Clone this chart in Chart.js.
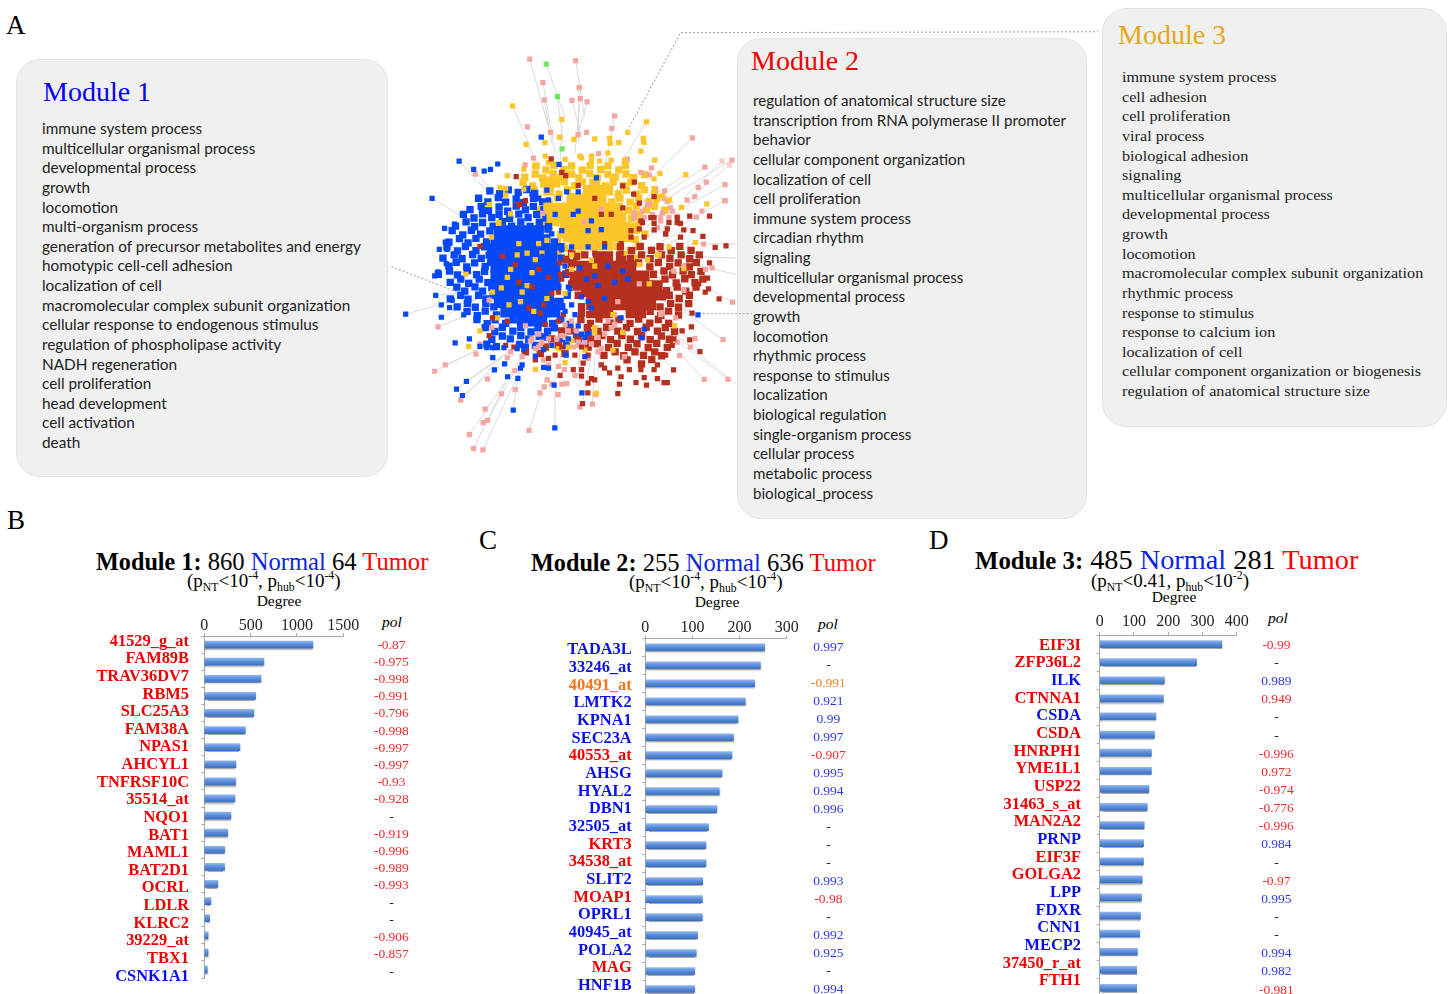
<!DOCTYPE html>
<html><head><meta charset="utf-8">
<script src="https://cdn.jsdelivr.net/npm/chart.js@4"></script>
<style>
html,body{margin:0;padding:0;background:#fff;width:1455px;height:994px;overflow:hidden}
.a{position:absolute;white-space:nowrap;line-height:1;transform:translateY(-50%)}
.t{font-family:"Liberation Serif",serif;color:#000}
canvas{position:absolute}
.box{position:absolute;background:#f0f0f0;border:1px solid #e4e4e4;border-radius:24px;box-sizing:border-box}
.head{position:absolute;font:28px/1 "Liberation Serif",serif;white-space:nowrap}
.terms{position:absolute;white-space:nowrap;transform-origin:0 0;color:#222}
.terms div{height:19.64px;line-height:19.64px}
sub,sup{font-size:62%;line-height:0}
</style></head><body>
<div id="boxes"></div>
<div class="a t" style="left:6px;top:25px;font-size:27px">A</div>
<div class="a t" style="left:7px;top:520px;font-size:27px">B</div>
<div class="a t" style="left:479px;top:540px;font-size:27px">C</div>
<div class="a t" style="left:929px;top:540px;font-size:27px">D</div>

<div class="a t" style="left:96px;top:562px;font-size:24.6px"><b style="font-size:24.2px">Module 1:</b> 860 <span style="color:#0a24e8">Normal</span> 64 <span style="color:#f00">Tumor</span></div>
<div class="a t" style="left:531px;top:563px;font-size:24.6px"><b style="font-size:24.2px">Module 2:</b> 255 <span style="color:#0a24e8">Normal</span> 636 <span style="color:#f00">Tumor</span></div>
<div class="a t" style="left:975px;top:560px;font-size:28.3px"><b style="font-size:24.8px">Module 3:</b> 485 <span style="color:#0a24e8">Normal</span> 281 <span style="color:#f00">Tumor</span></div>
<div class="a t" style="left:187px;top:580px;font-size:19px">(p<sub>NT</sub>&lt;10<sup>-4</sup>, p<sub>hub</sub>&lt;10<sup>-4</sup>)</div>
<div class="a t" style="left:629px;top:581px;font-size:19px">(p<sub>NT</sub>&lt;10<sup>-4</sup>, p<sub>hub</sub>&lt;10<sup>-4</sup>)</div>
<div class="a t" style="left:1091px;top:580px;font-size:19px">(p<sub>NT</sub>&lt;0.41, p<sub>hub</sub>&lt;10<sup>-2</sup>)</div>
<div class="a t" style="left:279px;top:601px;font-size:15.5px;transform:translate(-50%,-50%)">Degree</div>
<div class="a t" style="left:717px;top:602px;font-size:15.5px;transform:translate(-50%,-50%)">Degree</div>
<div class="a t" style="left:1174px;top:597px;font-size:15.5px;transform:translate(-50%,-50%)">Degree</div>
<div class="a t" style="left:392px;top:622px;font-size:15.5px;font-style:italic;transform:translate(-50%,-50%)">pol</div>
<div class="a t" style="left:828px;top:624px;font-size:15.5px;font-style:italic;transform:translate(-50%,-50%)">pol</div>
<div class="a t" style="left:1278px;top:618px;font-size:15.5px;font-style:italic;transform:translate(-50%,-50%)">pol</div>

<canvas id="net" style="left:0;top:0;z-index:3"></canvas>
<canvas id="c1" style="left:90px;top:600px"></canvas>
<canvas id="c2" style="left:520px;top:600px"></canvas>
<canvas id="c3" style="left:960px;top:600px"></canvas>
<script>
// ---------- Panel A: GO terms ----------
const module1Terms=["immune system process","multicellular organismal process","developmental process","growth","locomotion","multi-organism process","generation of precursor metabolites and energy","homotypic cell-cell adhesion","localization of cell","macromolecular complex subunit organization","cellular response to endogenous stimulus","regulation of phospholipase activity","NADH regeneration","cell proliferation","head development","cell activation","death"];
const module2Terms=["regulation of anatomical structure size","transcription from RNA polymerase II promoter","behavior","cellular component organization","localization of cell","cell proliferation","immune system process","circadian rhythm","signaling","multicellular organismal process","developmental process","growth","locomotion","rhythmic process","response to stimulus","localization","biological regulation","single-organism process","cellular process","metabolic process","biological_process"];
const module3Terms=["immune system process","cell adhesion","cell proliferation","viral process","biological adhesion","signaling","multicellular organismal process","developmental process","growth","locomotion","macromolecular complex subunit organization","rhythmic process","response to stimulus","response to calcium ion","localization of cell","cellular component organization or biogenesis","regulation of anatomical structure size"];

// ---------- Panel A: network nodes (x,y pairs) ----------
const nodesGreen=[463,55,497,156,511,317];
const nodesPink=[413,40,552,44,453,112,563,128,457,166,541,167,566,162,587,172,670,215,406,249,662,254,476,266,559,274,585,266,906,283,424,346,399,367,622,332,709,349,1026,352,944,374,782,376,248,395,948,420,1005,428,924,436,822,447,913,465,890,476,1004,477,935,510,918,528,810,540,845,510,940,612,966,685,946,690,1028,791,999,907,914,903,867,957,942,1030,1014,1030,135,868,262,920,250,952,157,985,125,1005,345,963,368,1003,285,1029,327,1075,369,1062,204,1094,278,1122,272,1164,285,1157,230,1201,243,1244,271,1248,411,1188,444,1072,457,1053,466,1032,499,1077,510,1045,525,1043,518,1000,550,1018,565,1116,603,1107,612,1077,430,935,415,912,400,865,440,890,520,860,540,850,530,880,480,1045,630,935,660,870,670,830,680,790,745,735,815,825,860,915,880,755,850,695,810,530,770,490,730,530,750,390,775,398,630,505,578,543,452,517,290,785,298,870,355,945,390,960,1005,477,840,500,760,530,800,560,830,480,775,487,620,945,590,965,520,900,560,925,440,930,670,860,640,890,700,960,810,830,880,680,855,840,900,930,
420,905,450,915,510,895,555,880,470,985,500,990,455,970,545,930,600,920,650,850,730,515,755,510,785,520,815,515,835,530,860,525,795,440,820,470,560,915,620,900,580,915,470,905,445,925,495,905];
const nodesPinkFaint=[996,355,1018,367];
const nodesYellow=[361,184,510,226,767,234,710,266,402,303,459,298,503,281,547,288,610,286,655,285,657,300,757,285,759,297,683,298,750,324,792,352,886,397,808,394,950,487,873,498,837,475,915,607,852,865,262,880,228,928,430,999,520,978,615,1073,345,400,323,437,
460,340,565,340,600,340,650,330,470,360,520,350,570,345,600,356,625,355,660,352,700,352,395,380,428,372,790,410,340,440,395,442,790,440,815,462,795,490,800,645,770,660,
318,548,297,590,375,645,405,640,345,715,327,747,220,705,405,740,425,820,315,840,385,790,520,765,540,910,500,935,580,940,610,870,665,830,695,885,775,735,805,645,835,620,880,688,290,490,355,518,320,545,610,885,665,940,530,930,450,640,465,600,440,610,340,460,
380,610,430,660,355,690,420,700,390,760,465,780,350,800,300,760,540,690,610,680,540,645,600,662,700,640,745,675];
const nodesRed=[1008,617,975,622,938,588,958,525,898,525,987,781,929,944,903,868,898,908,849,1001,680,1074,573,1105,589,1072,767,1048,735,1040,820,1040,830,1040,478,348,522,400,510,390,372,403,400,477,381,490,262,619,369,675,430,970,
780,530,790,530,860,530,755,545,790,548,835,545,870,548,745,565,790,568,830,565,880,568,908,570,720,590,760,590,825,580,870,590,690,640,958,670,952,717,925,735,955,750,945,760,905,825,875,880,850,905,845,925,825,955,800,985,545,1000,570,1000,640,995,680,995,715,1000,750,1000,790,1000,505,1018,570,1020,600,1028,655,1010,690,1022,760,1025,800,1028,590,1042,610,1032,685,1045,510,930,570,930,490,955,550,955,590,955,575,980,630,985,
470,715,480,765,510,720,515,830,500,850,460,860,345,850,300,840,290,895,340,925,365,930,470,965,445,825,505,670,505,705,560,430,695,432,730,420,728,457,695,500,630,520,720,570,750,540,745,485,790,465,825,580,860,545,
420,745,380,730,440,690,330,650,410,810,455,800,500,760,610,470,660,520,690,610,640,610,610,640];
const nodesBlue=[199,355,243,381,275,386,294,381,316,364,117,470,448,281,502,365,615,407,37,828,128,770,145,800,145,838,187,917,230,905,262,928,301,963,306,1001,337,982,346,1022,377,1027,221,1036,191,1060,209,1080,363,1125,487,1048,489,1180,571,1072,923,831,753,902,430,958,455,993,470,995,390,985,385,995,523,955,
157,606,139,628,162,628,160,672,135,698,125,710,178,785,170,808,155,563,185,550,213,831,283,932,300,932,335,932,375,935,395,938,455,938,480,925,580,900,
480,580,510,570,490,520,545,520,590,570,630,567,590,620,560,450,525,450,470,475,640,620,565,685,610,710,695,695,710,720,620,740,600,810,560,865,580,960,570,890,690,840,760,875,510,630,540,620,450,650,585,720,535,750,520,680,
530,745,570,775,540,800,520,820,465,445,420,458,440,470,500,470,560,510,600,540,650,680,670,730,640,780,590,790,550,830,530,905];
// mid-density rings of each module
const midBlue=[292,447,322,456,348,444,378,452,404,443,428,455,258,470,286,481,318,468,340,482,372,472,394,484,425,470,452,481,232,505,266,495,288,508,320,497,346,510,372,494,400,506,424,495,456,505,212,520,244,531,270,518,298,530,320,520,352,532,380,519,408,530,434,520,462,531,188,556,220,543,246,558,270,545,302,556,330,542,358,556,386,543,414,557,442,544,470,556,178,570,210,583,236,569,264,581,292,571,168,606,200,595,226,608,250,594,282,605,162,620,194,633,218,619,250,632,276,620,150,655,184,645,208,657,240,644,266,656,290,646,168,680,190,668,222,682,246,670,278,681,296,669,136,705,170,695,194,707,224,694,252,706,276,696,172,730,204,720,228,733,260,720,286,731,192,745,216,757,247,744,270,757,298,746,172,781,204,770,226,782,258,770,280,781,302,771,193,806,224,795,248,807,280,796,304,806,223,820,254,833,278,819,312,831,253,845,284,858,308,846,340,857,363,846,482,857,507,845,278,870,307,882,330,869,362,881,386,870,417,883,438,871,467,881,488,871,298,906,330,896,354,905,386,895,410,906,442,897,283,921,312,929,382,922,510,805,527,770,498,745,522,705,508,655,507,620,488,605,468,565,400,930,430,925,460,900,510,905,525,925,555,895,590,885,535,860];
const midYellow=[432,370,462,382,486,368,517,381,540,370,572,383,596,369,628,381,650,370,683,382,703,369,398,405,430,395,452,407,484,394,508,406,540,395,562,407,595,394,618,406,650,396,672,405,705,395,728,406,762,397,393,420,422,432,518,419,550,431,573,420,642,432,666,419,697,431,720,420,752,431,426,445,502,457,528,444,682,456,706,445,737,457,760,444,792,456,438,470,472,482,498,469,662,481,686,470,717,482,743,469,774,481,798,470,443,505,712,507,736,494,767,506,790,495,822,507,453,520,722,532,746,519,458,555,492,545,727,556,748,544,473,570,507,582,737,569,762,581,498,605,733,597,512,620,542,632,678,619,717,631,743,620,518,655,562,645,732,656,520,625,545,610,500,640];
const midRed=[688,620,722,632,748,619,782,631,808,620,842,632,868,619,902,631,718,656,752,645,778,657,812,645,838,656,872,645,898,657,927,645,743,670,777,682,803,669,837,681,863,670,897,682,918,669,788,705,820,695,846,707,878,695,903,706,932,696,823,720,857,732,883,719,914,731,938,720,828,756,860,745,886,757,917,745,866,780,897,770,836,770,808,806,840,795,864,807,895,796,778,820,810,832,834,819,864,831,568,845,597,857,623,844,657,856,683,845,717,857,743,844,777,856,803,845,834,857,588,870,620,882,646,869,680,881,706,870,740,882,766,869,800,881,824,870,852,882,598,906,632,895,658,907,692,895,718,906,752,895,778,907,812,896,836,906,618,920,652,932,678,919,712,931,738,920,772,932,798,919,830,931,638,956,672,945,698,957,732,945,758,956,792,945,813,957,708,970,752,982,783,969,545,670,530,700,540,735,560,770,580,765,570,805,570,825,595,830,540,675,510,880,480,905,500,925,540,640,525,660,555,650,580,645,560,905,590,930,460,930,520,950,445,950,400,945,535,880];
const coreYellow=[460,420,490,420,610,425,470,445,590,445,620,445,650,445,540,470,570,470,600,470,630,470,470,500,500,500,530,500,560,500,590,500,620,500,650,500,680,500,480,530,510,530,540,530,570,530,600,530,630,530,660,530,690,530,520,560,550,560,580,560,610,560,640,560,670,560,700,560,530,590,560,590,590,590,620,590,650,590,680,590,710,590,560,615,590,615,620,615,650,615];
const coreBlue=[320,570,350,570,380,570,410,570,440,570,310,598,340,598,370,598,400,598,430,598,460,598,300,626,330,626,360,626,390,626,420,626,450,626,480,626,300,654,330,654,360,654,390,654,420,654,450,654,480,654,310,682,340,682,370,682,400,682,430,682,460,682,490,682,310,710,340,710,370,710,400,710,430,710,460,710,490,710,310,738,340,738,370,738,400,738,430,738,460,738,490,738,320,766,350,766,380,766,410,766,440,766,470,766,320,794,350,794,380,794,410,794,440,794,470,794,500,794,340,822,370,822,400,822,430,822,460,822,490,822,390,850,420,850,450,850];
const coreRed=[620,650,650,650,690,650,570,680,600,680,630,680,660,680,690,680,720,680,550,710,580,710,610,710,640,710,670,710,700,710,730,710,760,710,560,740,590,740,620,740,650,740,680,740,710,740,740,740,770,740,800,740,600,770,630,770,660,770,690,770,720,770,750,770,780,770,810,770,600,800,630,800,660,800,690,800,720,800,750,800,780,800,620,825,650,825,720,825,750,825];
// node-to-node links (x1,y1,x2,y2)
const links=[413,40,470,250,453,112,490,330,457,166,480,300,463,55,520,220,497,156,515,300,552,44,580,220,563,128,560,300,541,167,570,280,566,162,550,330,587,172,560,270,361,184,425,340,510,226,505,400,670,215,640,380,767,234,690,360,906,283,760,430,1026,352,830,470,944,374,800,470,996,355,880,470,1018,367,900,470,1005,428,840,520,1004,477,860,560,1040,612,900,610,1040,655,880,650,1040,705,880,670,1028,791,900,720,999,907,880,820,1040,1045,840,880,1014,1030,820,880,942,1030,820,900,929,944,830,840,849,1001,760,900,680,1074,680,960,573,1105,600,950,603,1107,610,960,489,1180,490,1000,411,1188,470,1000,271,1248,390,990,243,1244,340,1040,230,1201,390,960,285,1157,370,1000,363,1125,380,1000,204,1094,340,950,209,1080,370,950,191,1060,330,960,221,1036,370,930,125,1005,290,920,157,985,300,920,135,868,250,820,37,828,190,785,117,470,260,560,199,355,320,490,243,381,330,480,128,770,230,760,145,838,220,800,886,397,760,480,923,831,800,780,850,540,720,620,900,560,740,640,930,600,760,680,950,720,760,720,900,800,760,740,860,860,720,800,760,950,700,820,640,1000,620,860,560,1020,570,880,500,1000,520,880,440,950,470,880,350,960,420,860,300,900,380,820,200,800,320,760,180,700,320,700,170,620,320,660,200,540,340,620,300,460,400,580,440,400,520,520,600,380,580,500,700,400,640,520,790,440,700,560,
880,590,760,640,900,600,780,660,860,620,760,660,940,650,800,700,910,690,780,720,850,480,720,600,780,460,680,560,720,400,640,520,620,380,590,520,480,390,530,520,420,440,500,560,320,470,420,600,250,540,380,640,210,600,360,660,190,720,340,720,210,790,340,760,250,840,380,780,320,890,420,800,420,930,470,830,560,990,580,840,620,1010,630,850,710,1000,700,840,790,990,750,820,860,900,780,780,830,820,740,760];
const callouts=[-6,681,192,760,null,null,715,250,870,-42,2136,-45,null,null,925,827,1086,827];

// ---------- Panels B, C, D: hub genes ----------
const m1Genes=["41529_g_at","FAM89B","TRAV36DV7","RBM5","SLC25A3","FAM38A","NPAS1","AHCYL1","TNFRSF10C","35514_at","NQO1","BAT1","MAML1","BAT2D1","OCRL","LDLR","KLRC2","39229_at","TBX1","CSNK1A1"];
const m1Degree=[1173,644,612,554,536,442,385,342,338,331,288,252,219,219,147,72,58,40,40,32];
const m1Group="TTTTTTTTTTTTTTTTTTTN";
const m1Pol=["-0.87","-0.975","-0.998","-0.991","-0.796","-0.998","-0.997","-0.997","-0.93","-0.928","-","-0.919","-0.996","-0.989","-0.993","-","-","-0.906","-0.857","-"];
const m1PolGroup="TTTTTTTTTT-TTTT--TT-";
const m1Ticks=[0,500,1000,1500];

const m2Genes=["TADA3L","33246_at","40491_at","LMTK2","KPNA1","SEC23A","40553_at","AHSG","HYAL2","DBN1","32505_at","KRT3","34538_at","SLIT2","MOAP1","OPRL1","40945_at","POLA2","MAG","HNF1B"];
const m2Degree=[253,244,232,212,197,187,184,163,157,152,134,129,129,122,121,121,111,108,105,105];
const m2Group="NNONNNTNNNNTTNTNNNTN";
const m2Pol=["0.997","-","-0.991","0.921","0.99","0.997","-0.907","0.995","0.994","0.996","-","-","-","0.993","-0.98","-","0.992","0.925","-","0.994"];
const m2PolGroup="N-ONNNTNNN---NT-NN-N";
const m2Ticks=[0,100,200,300];

const m3Genes=["EIF3I","ZFP36L2","ILK","CTNNA1","CSDA","CSDA","HNRPH1","YME1L1","USP22","31463_s_at","MAN2A2","PRNP","EIF3F","GOLGA2","LPP","FDXR","CNN1","MECP2","37450_r_at","FTH1"];
const m3Degree=[357,283,189,186,164,160,151,151,144,139,130,128,128,124,122,119,117,110,108,108];
const m3Group="TTNTNTTTTTTNTTNNNNTT";
const m3Pol=["-0.99","-","0.989","0.949","-","-","-0.996","0.972","-0.974","-0.776","-0.996","0.984","-","-0.97","0.995","-","-","0.994","0.982","-0.981"];
const m3PolGroup="T-NT--TTTTTN-TN--NNT";
const m3Ticks=[0,100,200,300,400];

// ---------- boxes ----------
function addBox(l,t,w,h,title,color,hx,hy,terms,tx,ty,font,size,fit){
  const b=document.createElement('div');b.className='box';
  b.style.cssText=`left:${l}px;top:${t}px;width:${w}px;height:${h}px`;
  document.getElementById('boxes').appendChild(b);
  const head=document.createElement('div');head.className='head';head.textContent=title;
  head.style.cssText=`left:${hx-l-1}px;top:${hy-t-1}px;color:${color}`;b.appendChild(head);
  const tb=document.createElement('div');tb.className='terms';
  tb.style.cssText=`left:${tx-l-1}px;top:${ty-t-1}px;font-family:${font};font-size:${size}px`;
  terms.forEach(s=>{const d=document.createElement('div');d.textContent=s;tb.appendChild(d)});
  b.appendChild(tb);
  const idx=terms.reduce((m,s,i)=>s.length>terms[m].length?i:m,0);
  const sp=document.createElement('span');sp.textContent=terms[idx];tb.children[idx].textContent='';tb.children[idx].appendChild(sp);
  tb.style.transform=`scaleX(${fit/sp.getBoundingClientRect().width})`;
}
addBox(16,59,372,418,"Module 1","#0000f5",43,78,module1Terms,42,119,'Lato,"Open Sans",sans-serif',15,319);
addBox(737,38,350,481,"Module 2","#f00000",751,47,module2Terms,753,91,'Lato,"Open Sans",sans-serif',15,313);
addBox(1102,8,345,419,"Module 3","#e6a817",1118,21,module3Terms,1122,67,'"Liberation Serif",serif',15.5,299);

// ---------- network ----------
const pts=a=>{const o=[];for(let i=0;i<a.length;i+=2)o.push({x:a[i],y:a[i+1]});return o};
const segs=a=>{const o=[];for(let i=0;i<a.length;i+=4)o.push({x:a[i],y:a[i+1]},{x:a[i+2],y:a[i+3]},{x:NaN,y:NaN});return o};
const node=(label,a,color,r,order)=>({label,data:pts(a),backgroundColor:color,borderWidth:0,pointStyle:'rect',pointRadius:r,order,showLine:false});
const cN=document.getElementById('net');cN.width=1455;cN.height=500;cN.style.width='1455px';cN.style.height='500px';
new Chart(cN,{type:'scatter',data:{datasets:[
  {label:'callouts',data:pts(callouts).map(p=>p.x===null?{x:NaN,y:NaN}:p),showLine:true,borderColor:'#9a9a9a',borderWidth:1,borderDash:[2,2],pointRadius:0,order:20},
  {label:'links',data:segs(links),showLine:true,borderColor:'#dadada',borderWidth:1,pointRadius:0,order:19},
  node('Module 3 dense',midYellow,'#fcc62a',5.2,18),
  node('Module 1 dense',midBlue,'#0648f8',5.2,17),
  node('Module 2 dense',midRed,'#b5301f',5.2,16),
  node('Module 3 core',coreYellow,'#fcc62a',7.5,15),
  node('Module 1 core',coreBlue,'#0648f8',7.5,14),
  node('Module 2 core',coreRed,'#b5301f',7.5,13),
  node('unassigned',nodesPink,'#f4a6a3',3.7,9),
  node('unassigned faint',nodesPinkFaint,'#f9cfcd',3.7,9),
  node('other',nodesGreen,'#6fe85a',3.7,8),
  node('Module 3',nodesYellow,'#fcc62a',3.7,7),
  node('Module 2',nodesRed,'#b5301f',3.7,6),
  node('Module 1',nodesBlue,'#0648f8',3.7,5)
]},options:{responsive:false,animation:false,events:[],layout:{padding:0},
  plugins:{legend:{display:false},tooltip:{enabled:false}},
  scales:{x:{type:'linear',display:false,min:-1170,max:3195},y:{type:'linear',display:false,reverse:true,min:-120,max:1380}}}});

// ---------- bar charts ----------
const geneColor={T:'#f00000',N:'#0a10e8',O:'#f5741a'};
const polColor={T:'#f22a2a',N:'#2a3ae6',O:'#f5842a','-':'#222'};
const serif='"Liberation Serif",serif';
const barShadow={id:'barShadow',
  beforeDatasetsDraw(c){c.ctx.save();c.ctx.shadowColor='rgba(60,60,60,.45)';c.ctx.shadowOffsetY=1.5;c.ctx.shadowBlur=1.5},
  afterDatasetsDraw(c){c.ctx.restore()}};
function barFill(ctx){
  const c=ctx.chart,s=c.scales.y;if(!s||ctx.dataIndex===undefined||!c.chartArea)return '#5b8fd8';
  const y=s.getPixelForValue(ctx.dataIndex),g=c.ctx.createLinearGradient(0,y-3.5,0,y+3.5);
  g.addColorStop(0,'#8fb4ea');g.addColorStop(.45,'#5c90dc');g.addColorStop(1,'#3d70bf');return g;
}
function noPad(a){a.paddingTop=a.paddingBottom=a.paddingLeft=a.paddingRight=0}
function rowAxis(position,texts,colors,font,first,last,top,bottom,width,padding,crossAlign){
  const s=(last-first)/(texts.length-1),mn=(top-first)/s,mx=(bottom-first)/s;
  return {type:'linear',position,reverse:true,offset:false,bounds:'data',min:mn,max:mx,
    border:{display:false},grid:{display:false,drawTicks:false,offset:false},
    afterBuildTicks(a){a.ticks=texts.map((_,i)=>({value:i}));a.min=mn;a.max=mx},
    afterFit(a){a.width=width;noPad(a)},
    ticks:{autoSkip:false,padding,crossAlign,maxRotation:0,font,callback:v=>texts[v],color:c=>colors[c.index]}};
}
function bars(id,cfg){
  const cv=document.getElementById(id);
  const W=cfg.canvasRight-cfg.canvasLeft,H=cfg.canvasBottom-600;
  cv.width=W;cv.height=H;cv.style.width=W+'px';cv.style.height=H+'px';
  new Chart(cv,{type:'bar',plugins:[barShadow],
    data:{labels:cfg.genes,datasets:[{label:'Degree',data:cfg.degree,backgroundColor:barFill,barThickness:7,borderWidth:0}]},
    options:{indexAxis:'y',responsive:false,animation:false,events:[],
      layout:{padding:{left:0,top:0,right:0,bottom:cfg.canvasBottom-cfg.bottom}},
      plugins:{legend:{display:false},tooltip:{enabled:false}},
      scales:{
        x:{type:'linear',position:'top',min:0,max:cfg.max,
          afterBuildTicks(a){a.ticks=cfg.ticks.map(v=>({value:v}))},
          afterFit(a){a.height=cfg.top-600;noPad(a)},
          border:{color:'#a8a8a8'},grid:{drawOnChartArea:false,color:'#a8a8a8',tickLength:3},
          ticks:{color:'#222',padding:cfg.tickPad,maxRotation:0,font:{family:serif,size:16},callback:v=>String(v)}},
        y:{type:'category',position:'left',
          afterFit(a){a.width=5;noPad(a)},
          border:{color:'#a8a8a8'},grid:{drawOnChartArea:false,color:'#a8a8a8',tickLength:3},
          ticks:{display:false}},
        yNames:rowAxis('left',cfg.genes,[...cfg.group].map(k=>geneColor[k]),{family:serif,size:16.4,weight:'bold'},
          cfg.nameFirst,cfg.nameLast,cfg.top,cfg.bottom,cfg.left-cfg.canvasLeft-5,cfg.left-5-cfg.nameRight,'near'),
        yPol:rowAxis('right',cfg.pol,[...cfg.polGroup].map(k=>polColor[k]),{family:serif,size:13.5},
          cfg.polFirst,cfg.polLast,cfg.top,cfg.bottom,cfg.canvasRight-cfg.right,cfg.polCenter-cfg.right-17,'center')
      }}});
}
bars('c1',{genes:m1Genes,degree:m1Degree,group:m1Group,pol:m1Pol,polGroup:m1PolGroup,ticks:m1Ticks,max:1500,tickPad:-2,
  canvasLeft:90,canvasRight:440,canvasBottom:994,left:204.3,right:343.3,top:636,bottom:978,nameRight:189,
  nameFirst:641.4,nameLast:976.4,polFirst:645,polLast:972,polCenter:391});
bars('c2',{genes:m2Genes,degree:m2Degree,group:m2Group,pol:m2Pol,polGroup:m2PolGroup,ticks:m2Ticks,max:300,tickPad:-2.4,
  canvasLeft:520,canvasRight:890,canvasBottom:1010,left:645.3,right:786.7,top:638.3,bottom:998,nameRight:631.7,
  nameFirst:650,nameLast:985.6,polFirst:647.7,polLast:989,polCenter:828});
bars('c3',{genes:m3Genes,degree:m3Degree,group:m3Group,pol:m3Pol,polGroup:m3PolGroup,ticks:m3Ticks,max:400,tickPad:0.3,
  canvasLeft:960,canvasRight:1360,canvasBottom:1010,left:1099.7,right:1236.7,top:635,bottom:997,nameRight:1081,
  nameFirst:645.3,nameLast:981,polFirst:645.3,polLast:990,polCenter:1276});
</script>
</body></html>
